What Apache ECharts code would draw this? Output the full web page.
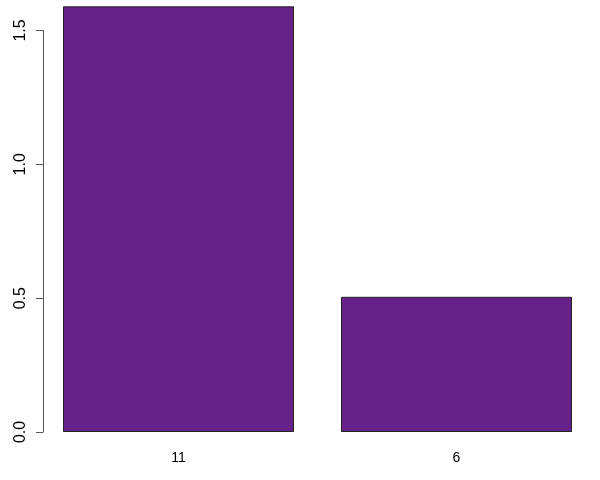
<!DOCTYPE html>
<html>
<head>
<meta charset="utf-8">
<script src="https://cdn.jsdelivr.net/npm/echarts@6/dist/echarts.min.js"></script>
<style>
  html, body { margin: 0; padding: 0; background: #fff; }
  #chart { width: 600px; height: 480px; }
</style>
</head>
<body>
<div id="chart"></div>
<script>
// bar names and heights
const categories = ['11', '6']
const values = [1.59, 0.505]
const yTicks = [0, 0.5, 1.0, 1.5]

const font = 'Liberation Sans, Arial, sans-serif'
const chart = echarts.init(document.getElementById('chart'))

chart.setOption({
  animation: false,
  grid: [
    // bars
    { left: 39.5, right: 4.5, top: 3.67, bottom: 48 },
    // R style y axis, line only spans the tick range
    { left: 43, width: 10, top: 30.5, bottom: 48 }
  ],
  xAxis: [
    {
      gridIndex: 0,
      type: 'category',
      data: categories,
      axisLine: { show: false },
      axisTick: { show: false },
      axisLabel: { color: '#000', fontSize: 14, fontFamily: font, margin: 19 }
    },
    { gridIndex: 1, type: 'value', show: false }
  ],
  yAxis: [
    {
      gridIndex: 0,
      type: 'value',
      min: 0,
      max: 1.6,
      show: false
    },
    {
      gridIndex: 1,
      type: 'value',
      min: yTicks[0],
      max: yTicks[yTicks.length - 1],
      interval: 0.5,
      splitLine: { show: false },
      axisLine: { show: true, lineStyle: { color: '#555', width: 1 } },
      axisTick: { show: true, length: 7, lineStyle: { color: '#555' } },
      axisLabel: {
        color: '#000',
        fontSize: 16,
        fontFamily: font,
        rotate: 90,
        margin: 14,
        formatter: v => v.toFixed(1)
      }
    }
  ],
  series: [
    {
      type: 'bar',
      xAxisIndex: 0,
      yAxisIndex: 0,
      data: values,
      barCategoryGap: '16.9%',
      itemStyle: {
        color: '#662288',
        borderColor: '#222',
        borderWidth: 1
      }
    }
  ]
})
</script>
</body>
</html>
